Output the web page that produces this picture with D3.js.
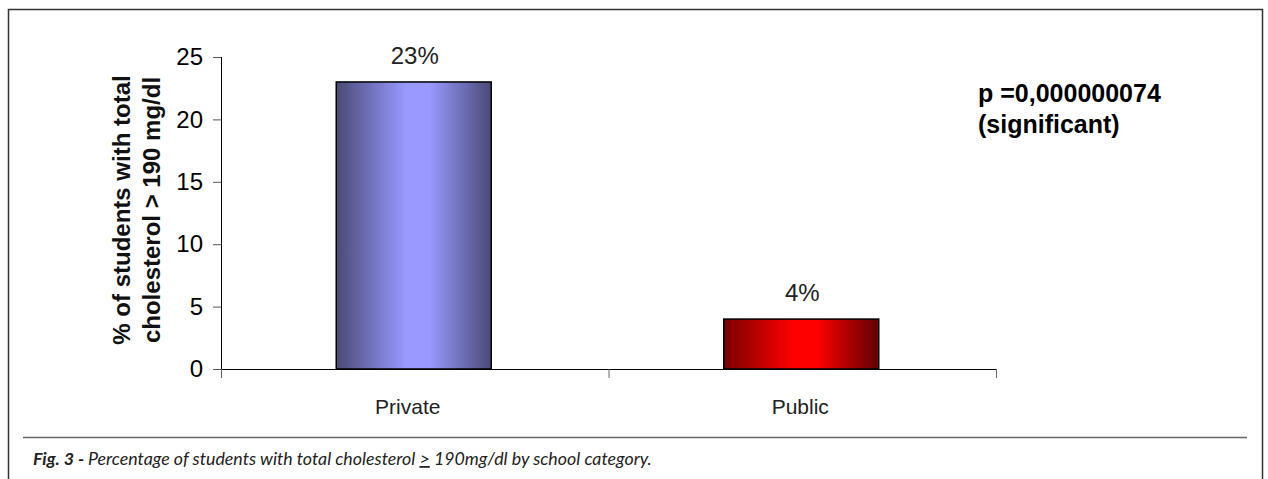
<!DOCTYPE html>
<html>
<head>
<meta charset="utf-8">
<script src="https://cdn.jsdelivr.net/npm/d3@7"></script>
<style>
  body { margin: 0; background: #fff; }
  svg { display: block; }
</style>
</head>
<body>
<div id="chart"></div>
<script>
// data
const categories = ["Private", "Public"];
const values = [23, 4];
const valueLabels = ["23%", "4%"];
const yTicks = [0, 5, 10, 15, 20, 25];
const yTitle = ["% of students with total", "cholesterol > 190 mg/dl"];
const pNote = ["p =0,000000074", "(significant)"];

const width = 1268, height = 479;

const svg = d3.select("#chart").append("svg")
  .attr("width", width)
  .attr("height", height);

// gradients for the two bars
const defs = svg.append("defs");
function addGradient(id, edge, mid, edgeRight) {
  const g = defs.append("linearGradient").attr("id", id)
    .attr("x1", "0%").attr("x2", "100%").attr("y1", "0%").attr("y2", "0%");
  g.append("stop").attr("offset", "0%").attr("stop-color", edge);
  g.append("stop").attr("offset", "45%").attr("stop-color", mid);
  g.append("stop").attr("offset", "60%").attr("stop-color", mid);
  g.append("stop").attr("offset", "100%").attr("stop-color", edgeRight);
}
addGradient("gradBlue", "#4a4a78", "#9999ff", "#4a4a78");
addGradient("gradRed", "#7a0000", "#ff0000", "#600000");
const fills = ["url(#gradBlue)", "url(#gradRed)"];

// outer frame (open at the bottom) and separator line
svg.append("path")
  .attr("d", "M8.5,479 V9.5 H1262.5 V479")
  .attr("fill", "none")
  .attr("stroke", "#333")
  .attr("stroke-width", 1.5);

svg.append("line")
  .attr("x1", 23).attr("x2", 1247)
  .attr("y1", 437.5).attr("y2", 437.5)
  .attr("stroke", "#666")
  .attr("stroke-width", 1.5);

// scales
const x = d3.scaleBand().domain(categories).range([221, 996]).paddingInner(0).paddingOuter(0);
const y = d3.scaleLinear().domain([0, 25]).range([369, 57]);

const font = "'Liberation Sans', Arial, sans-serif";

// y axis
const yAxis = svg.append("g")
  .attr("transform", "translate(221,0)")
  .call(d3.axisLeft(y).tickValues(yTicks).tickSize(8).tickPadding(10).tickSizeOuter(0));
yAxis.select(".domain").remove();
yAxis.selectAll(".tick line").attr("stroke", "#555");
yAxis.selectAll("text")
  .attr("font-family", font)
  .attr("font-size", 24)
  .attr("fill", "#000");
svg.append("line")
  .attr("x1", 221.5).attr("x2", 221.5)
  .attr("y1", y(25)).attr("y2", 378)
  .attr("stroke", "#000");

// bars
svg.selectAll("rect.bar")
  .data(values)
  .enter()
  .append("rect")
  .attr("class", "bar")
  .attr("x", (d, i) => x(categories[i]) + x.bandwidth() * 0.3 - 1)
  .attr("width", x.bandwidth() * 0.4)
  .attr("y", d => y(d))
  .attr("height", d => y(0) - y(d))
  .attr("fill", (d, i) => fills[i])
  .attr("stroke", "#000")
  .attr("stroke-width", 1.5);

// x axis
svg.append("line")
  .attr("x1", 221).attr("x2", 996)
  .attr("y1", 369.5).attr("y2", 369.5)
  .attr("stroke", "#000")
  .attr("stroke-width", 1.2);
const xEdges = [221, 221 + x.bandwidth(), 996];
svg.selectAll("line.xtick")
  .data(xEdges)
  .enter()
  .append("line")
  .attr("class", "xtick")
  .attr("x1", d => d + 0.5).attr("x2", d => d + 0.5)
  .attr("y1", 369).attr("y2", 378)
  .attr("stroke", "#666");

svg.selectAll("text.cat")
  .data(categories)
  .enter()
  .append("text")
  .attr("class", "cat")
  .attr("x", (d, i) => x(d) + x.bandwidth() / 2 - (i === 0 ? 7 : 2))
  .attr("y", 414)
  .attr("text-anchor", "middle")
  .attr("font-family", font)
  .attr("font-size", 21)
  .attr("fill", "#222")
  .text(d => d);

// value labels
svg.selectAll("text.val")
  .data(values)
  .enter()
  .append("text")
  .attr("class", "val")
  .attr("x", (d, i) => x(categories[i]) + x.bandwidth() / 2)
  .attr("y", d => y(d) - 18)
  .attr("text-anchor", "middle")
  .attr("font-family", font)
  .attr("font-size", 24)
  .attr("fill", "#222")
  .text((d, i) => valueLabels[i]);

// y axis title
const yt = svg.append("text")
  .attr("transform", "translate(130,210) rotate(-90)")
  .attr("text-anchor", "middle")
  .attr("font-family", font)
  .attr("font-weight", "bold")
  .attr("font-size", 24)
  .attr("fill", "#111");
yt.selectAll("tspan")
  .data(yTitle)
  .enter()
  .append("tspan")
  .attr("x", 0)
  .attr("dy", (d, i) => i === 0 ? 0 : 30)
  .text(d => d);

// p-value note
const pn = svg.append("text")
  .attr("x", 978)
  .attr("y", 102)
  .attr("font-family", font)
  .attr("font-weight", "bold")
  .attr("font-size", 25)
  .attr("fill", "#000");
pn.selectAll("tspan")
  .data(pNote)
  .enter()
  .append("tspan")
  .attr("x", 978)
  .attr("dy", (d, i) => i === 0 ? 0 : 31)
  .text(d => d);

// caption
const cap = svg.append("text")
  .attr("x", 33)
  .attr("y", 465)
  .attr("font-family", "Lato, 'Open Sans', sans-serif")
  .attr("font-style", "italic")
  .attr("font-size", 17.8)
  .attr("fill", "#222");
cap.append("tspan").attr("font-weight", "bold").text("Fig. 3 - ");
cap.append("tspan").text("Percentage of students with total cholesterol ");
cap.append("tspan").attr("text-decoration", "underline").text(">");
cap.append("tspan").text(" 190mg/dl by school category.");
</script>
</body>
</html>
